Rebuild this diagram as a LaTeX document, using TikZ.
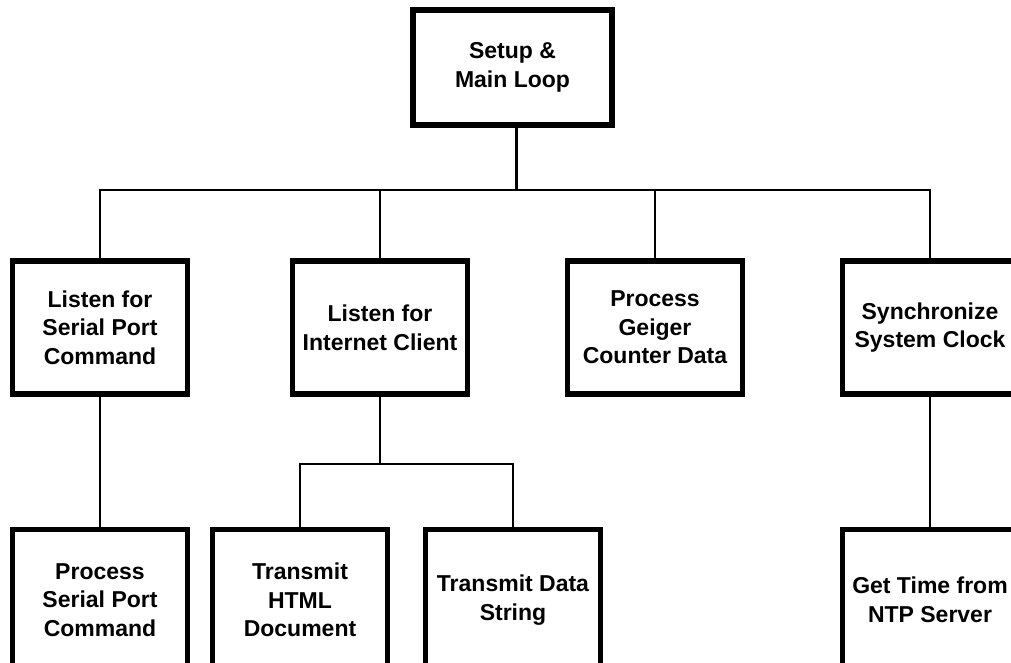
\documentclass[tikz,border=0pt]{standalone}
\usepackage{fontspec}
\setmainfont{Liberation Sans}
\begin{document}
\begin{tikzpicture}[x=0.75pt,y=-0.75pt,
  boxnode/.style={draw=black, line width=4.125pt, rectangle, inner sep=0pt,
    minimum width=130.9pt, minimum height=100.1pt, align=center,
    font=\fontsize{17.25pt}{21.5pt}\selectfont\bfseries},
  lownode/.style={boxnode, minimum height=105.4pt},
  topnode/.style={boxnode, minimum width=149.6pt, minimum height=86.6pt},
  link/.style={draw=black, line width=1.9pt}]
\useasboundingbox (0,0) rectangle (1011,663);
\clip (0,0) rectangle (1011,663);
\node[topnode] (top) at (512.5,67.5) {Setup \&\\Main Loop};
\node[boxnode] (A) at (100,327.5) {Listen for\\Serial Port\\Command};
\node[boxnode] (B) at (380,327.5) {Listen for\\Internet Client};
\node[boxnode] (C) at (655,327.5) {Process\\Geiger\\Counter Data};
\node[boxnode] (D) at (930,327.5) {Synchronize\\System Clock};
\node[lownode] (E) at (100,600) {Process\\Serial Port\\Command};
\node[lownode] (F) at (300,600) {Transmit\\HTML\\Document};
\node[lownode] (G) at (513,600) {Transmit Data\\String};
\node[lownode] (H) at (930,600) {Get Time from\\NTP Server};
\coordinate (bus) at (516,190);
\coordinate (sub) at (380,464);
\draw[link] ([xshift=3pt]top.south) -- ([xshift=3pt]top.south |- bus);
\draw[link] (A.north) -- (A.north |- bus) -- (D.north |- bus) -- (D.north);
\draw[link] (B.north) -- (B.north |- bus);
\draw[link] (C.north) -- (C.north |- bus);
\draw[link] (A.south) -- (E.north);
\draw[link] (D.south) -- (H.north);
\draw[link] (B.south) -- (sub);
\draw[link] (F.north) -- (F.north |- sub) -- (G.north |- sub) -- (G.north);
\end{tikzpicture}
\end{document}
